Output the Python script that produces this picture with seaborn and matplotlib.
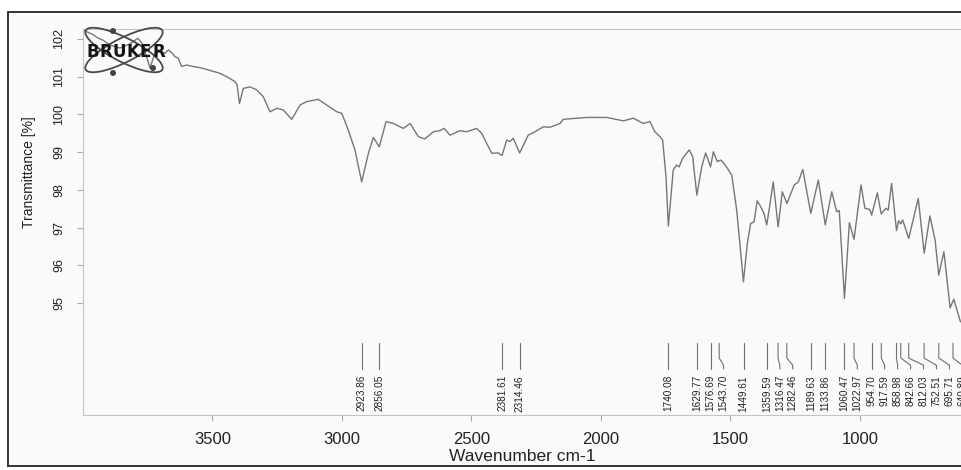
import numpy as np
import pandas as pd
import matplotlib
matplotlib.use("Agg")
import matplotlib.pyplot as plt
import seaborn as sns
from matplotlib.patches import Ellipse, Rectangle
from matplotlib.transforms import Affine2D

# ---------------- data ----------------
wavenumber = [4000, 3960, 3941, 3923, 3896, 3857, 3819, 3788, 3773, 3757, 3741, 3735, 3722, 3696, 3683,
              3671, 3656, 3645, 3633, 3619, 3600, 3574, 3548, 3516, 3471, 3445, 3413, 3405, 3396, 3381,
              3355, 3329, 3304, 3278, 3252, 3227, 3194, 3162, 3136, 3092, 3059, 3020, 3001, 2976, 2950,
              2924, 2898, 2879, 2856, 2830, 2802, 2763, 2737, 2705, 2680, 2647, 2622, 2606, 2583, 2544,
              2519, 2480, 2461, 2422, 2397, 2382, 2364, 2351, 2339, 2314, 2281, 2255, 2223, 2197, 2158,
              2146, 2055, 1978, 1914, 1875, 1837, 1811, 1792, 1772, 1762, 1749, 1740, 1721, 1708, 1698,
              1688, 1676, 1659, 1646, 1630, 1611, 1596, 1577, 1566, 1551, 1538, 1525, 1512, 1495, 1476,
              1450, 1435, 1422, 1409, 1397, 1383, 1371, 1360, 1348, 1335, 1316, 1300, 1282, 1254, 1238,
              1221, 1190, 1161, 1134, 1109, 1090, 1080, 1060, 1041, 1023, 996, 981, 962, 955, 933,
              918, 900, 891, 878, 859, 851, 843, 835, 812, 775, 752, 730, 710, 696, 676,
              652, 638, 612]
transmittance = [102.24, 102.11, 102.02, 101.97, 101.84, 101.76, 101.87, 102.02, 101.89, 101.58, 101.23, 101.36, 101.63, 101.66, 101.62,
                 101.71, 101.63, 101.53, 101.50, 101.27, 101.31, 101.27, 101.24, 101.18, 101.09, 101.00, 100.87, 100.78, 100.29, 100.69,
                 100.73, 100.65, 100.47, 100.07, 100.16, 100.12, 99.87, 100.25, 100.34, 100.40, 100.25, 100.07, 100.03, 99.59, 99.06,
                 98.21, 98.97, 99.39, 99.14, 99.81, 99.76, 99.63, 99.76, 99.41, 99.35, 99.54, 99.57, 99.63, 99.45, 99.57,
                 99.54, 99.63, 99.50, 98.97, 98.98, 98.91, 99.32, 99.28, 99.37, 98.98, 99.45, 99.54, 99.67, 99.66, 99.76,
                 99.87, 99.92, 99.92, 99.83, 99.90, 99.76, 99.81, 99.54, 99.41, 99.32, 98.35, 97.04, 98.53, 98.66, 98.61,
                 98.79, 98.92, 99.06, 98.88, 97.86, 98.61, 98.98, 98.61, 99.01, 98.75, 98.79, 98.70, 98.57, 98.39, 97.46,
                 95.56, 96.58, 97.11, 97.15, 97.71, 97.55, 97.38, 97.07, 97.60, 98.21, 97.02, 97.95, 97.64, 98.13, 98.21,
                 98.54, 97.38, 98.26, 97.07, 97.95, 97.42, 97.45, 95.12, 97.13, 96.69, 98.13, 97.51, 97.48, 97.33, 97.92,
                 97.36, 97.51, 97.46, 98.17, 96.92, 97.18, 97.10, 97.20, 96.71, 97.77, 96.32, 97.31, 96.67, 95.74, 96.36,
                 94.87, 95.10, 94.50]

peak_positions = [2923.86, 2856.05, 2381.61, 2314.46, 1740.08, 1629.77, 1576.69, 1543.70, 1449.61,
                  1359.59, 1316.47, 1282.46, 1189.63, 1133.86, 1060.47, 1022.97, 954.70, 917.59,
                  858.98, 842.66, 812.03, 752.51, 695.71, 640.89]
peak_labels = ["2923.86", "2856.05", "2381.61", "2314.46", "1740.08", "1629.77", "1576.69", "1543.70",
               "1449.61", "1359.59", "1316.47", "1282.46", "1189.63", "1133.86", "1060.47", "1022.97",
               "954.70", "917.59", "858.98", "842.66", "812.03", "752.51", "695.71", "640.89"]

x_ticks = [3500, 3000, 2500, 2000, 1500, 1000]
y_ticks = [95, 96, 97, 98, 99, 100, 101, 102]

df = pd.DataFrame({"wavenumber": wavenumber, "transmittance": transmittance})

# ---------------- figure ----------------
sns.set_theme(style="white")
plt.rcParams["font.family"] = ["Liberation Sans", "DejaVu Sans"]

W, H = 961, 470
fig = plt.figure(figsize=(W / 100, H / 100), dpi=100)
fig.patch.set_facecolor("white")

# scanned page border (behind everything)
border = Rectangle((8 / W, 1 - 466 / H), 1.2, (466 - 12) / H, transform=fig.transFigure,
                   fill=True, facecolor="#fafafa", edgecolor="#333333", linewidth=1.4,
                   zorder=-10)
fig.add_artist(border)

ax = fig.add_axes([83 / W, 1 - 415 / H, 1 - 83 / W, (415 - 29) / H])
ax.set_facecolor("none")
ax.set_zorder(1)

sns.lineplot(data=df, x="wavenumber", y="transmittance", sort=False, estimator=None,
             color="#767676", linewidth=1.0, ax=ax)

ax.set_xlim(4000, 610)
ax.set_ylim(92.03, 102.265)

ax.set_xticks(x_ticks)
ax.set_yticks(y_ticks)
ax.set_xticklabels([str(t) for t in x_ticks], fontsize=12, color="#222222")
ax.set_yticklabels([str(t) for t in y_ticks], fontsize=9, color="#222222", rotation=90, va="center")
ax.tick_params(axis="y", length=4, width=0.8, color="#aaaaaa", pad=9, direction="out", left=True)
ax.tick_params(axis="x", length=4, width=0.8, color="#aaaaaa", pad=8, direction="out", bottom=True)

ax.set_xlabel("Wavenumber cm-1", fontsize=12.5, color="#222222", labelpad=2)
ax.set_ylabel("Transmittance [%]", fontsize=10, color="#222222")
ax.yaxis.set_label_coords(-0.054, 0.63)

for side in ["left", "top", "bottom"]:
    ax.spines[side].set_color("#c4c4c4")
    ax.spines[side].set_linewidth(0.8)
ax.spines["right"].set_visible(False)

# ---------------- peak annotations ----------------
gap = 50.0  # minimum label spacing in cm-1
label_pos = []
prev = None
for p in peak_positions:
    lp = p if prev is None else min(p, prev - gap)
    label_pos.append(lp)
    prev = lp

y_top, y_bend1, y_bend2, y_bot, y_text = 93.93, 93.54, 93.35, 93.25, 93.09
for p, lp, lab in zip(peak_positions, label_pos, peak_labels):
    ax.plot([p, p, lp, lp], [y_top, y_bend1, y_bend2, y_bot], color="#707070", linewidth=0.8,
            clip_on=False)
    ax.text(lp, y_text, lab, rotation=90, ha="center", va="top", fontsize=7.2, color="#222222",
            clip_on=False)

# ---------------- BRUKER logo (pixel coordinates of the page) ----------------
for ang in (27, -27):
    e = Ellipse((124, H - 50), width=86, height=24, angle=ang, fill=False,
                edgecolor="#4a4a4a", linewidth=1.3, transform=Affine2D(), zorder=5)
    fig.add_artist(e)
for (dx, dy) in [(113, 31), (113, 73), (153, 68)]:
    fig.add_artist(Ellipse((dx, H - dy), 6, 6, facecolor="#444444", edgecolor="none",
                           transform=Affine2D(), zorder=5))
letters = "BRUKER"
for i, ch in enumerate(letters):
    fig.text((86 + i * 13.4) / W, 1 - 52 / H, ch, fontsize=12, fontweight="heavy", color="#151515",
             family=["DejaVu Sans"], ha="left", va="center", zorder=6)

fig.savefig("out.png", dpi=100, facecolor="white")
